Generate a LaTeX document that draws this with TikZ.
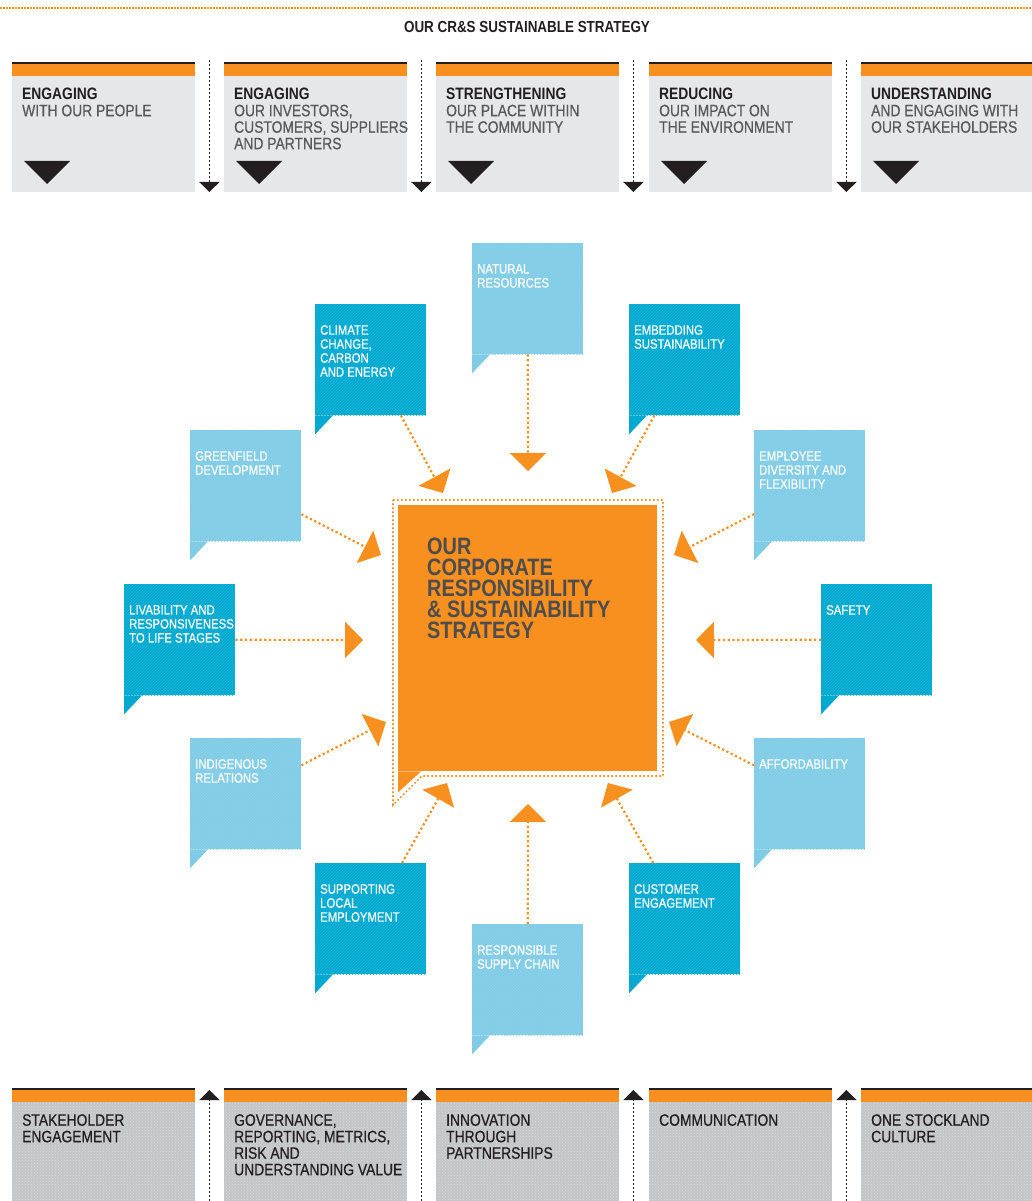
\documentclass[tikz,border=0pt]{standalone}
\usepackage{fontspec}
\setmainfont{Liberation Sans}[FakeStretch=0.84, UprightFeatures={FakeBold=0.5}]
\usetikzlibrary{arrows.meta}
\usetikzlibrary{patterns}
\usetikzlibrary{calc}

\definecolor{crsorange}{HTML}{F7901E}
\definecolor{ink}{HTML}{231F20}
\definecolor{inkgrey}{HTML}{58595B}
\definecolor{coreink}{HTML}{4D4D4F}
\definecolor{boxgrey}{HTML}{E6E7E8}
\definecolor{basegrey}{HTML}{C4C5C7}
\definecolor{dotgrey}{HTML}{D8D9DB}
\definecolor{skydark}{HTML}{00A9D0}
\definecolor{skylight}{HTML}{80CCE6}

\tikzset{
  stripe/.style={path picture={
      \fill[crsorange] (path picture bounding box.north west) rectangle ([yshift=-14pt]path picture bounding box.north east);
      \fill[ink] (path picture bounding box.north west) rectangle ([yshift=-2pt]path picture bounding box.north east);}},
  topbox/.style={anchor=north west, inner sep=0pt, minimum width=183pt, minimum height=130pt, fill=boxgrey, stripe},
  basebox/.style={anchor=north west, inner sep=0pt, minimum width=183pt, minimum height=125pt,
      preaction={fill=basegrey}, pattern=crosshatch dots, pattern color=dotgrey, stripe},
  boxtext/.style={anchor=north west, inner sep=0pt, align=left, font=\fontsize{16.5}{16.5}\selectfont},
  bubblebox/.style={anchor=north west, inner sep=0pt, minimum width=111pt, minimum height=111pt},
  bubbletext/.style={anchor=north west, inner sep=0pt, align=left, text=white, font=\fontsize{13.5}{14}\selectfont},
  core/.style={anchor=north west, inner sep=0pt, minimum width=259pt, minimum height=266pt, fill=crsorange},
  coretext/.style={anchor=north west, inner sep=0pt, align=left, text=coreink, font=\fontsize{23.7}{21}\selectfont\bfseries},
  rim/.style={crsorange, line width=1.6pt, dash pattern=on 1.6pt off 2.4pt},
  spoke/.style={crsorange, line width=2.2pt, dash pattern=on 2.2pt off 2.6pt, -{Triangle[length=18pt,width=36pt]}},
  linkdown/.style={ink, line width=1.6pt, dash pattern=on 1.6pt off 2.4pt, -{Triangle[length=10pt,width=20pt]}},
}

% speech bubble: name, colour, x, y, text
\newcommand\bubble[5]{%
  \node[bubblebox, fill=#2, postaction={pattern=north east lines, pattern color=#2!88!white}] (#1) at (#3,#4) {};
  \fill[#2] (#1.south west) -- ++(0,19) -- ++(18,-19) -- cycle;
  \node[bubbletext] (#1-t) at ([xshift=5pt,yshift=-21pt]#1.north west) {#5};
}

\begin{document}
\begin{tikzpicture}[x=1pt, y=-1pt]
  \useasboundingbox (0,0) rectangle (1032,1201);

  % header
  \draw[crsorange, line width=2pt, dash pattern=on 1.5pt off 1.5pt] (0,8) -- (1032,8);
  \node[inner sep=0pt, text=ink, font=\fontsize{16}{16}\selectfont\bfseries] (title) at (527,26.5) {OUR CR\&S SUSTAINABLE STRATEGY};

  % the five commitments
  \foreach \i/\x in {1/12,2/224,3/436,4/649,5/861}
    \node[topbox] (top\i) at (\x,62) {};
  \node[boxtext, text=inkgrey] (top1-t) at ([shift={(10,26)}]top1.north west) {{\color{ink}\bfseries ENGAGING}\\WITH OUR PEOPLE};
  \node[boxtext, text=inkgrey] (top2-t) at ([shift={(10,26)}]top2.north west) {{\color{ink}\bfseries ENGAGING}\\OUR INVESTORS,\\CUSTOMERS, SUPPLIERS\\AND PARTNERS};
  \node[boxtext, text=inkgrey] (top3-t) at ([shift={(10,26)}]top3.north west) {{\color{ink}\bfseries STRENGTHENING}\\OUR PLACE WITHIN\\THE COMMUNITY};
  \node[boxtext, text=inkgrey] (top4-t) at ([shift={(10,26)}]top4.north west) {{\color{ink}\bfseries REDUCING}\\OUR IMPACT ON\\THE ENVIRONMENT};
  \node[boxtext, text=inkgrey] (top5-t) at ([shift={(10,26)}]top5.north west) {{\color{ink}\bfseries UNDERSTANDING}\\AND ENGAGING WITH\\OUR STAKEHOLDERS};
  \foreach \i in {1,...,5}
    \fill[ink] ($(top\i.north west)+(12,99)$) -- ++(46,0) -- ++(-23,23) -- cycle;
  \foreach \i in {1,...,4}{
    \coordinate (ga\i) at ($(top\i.north east)+(14,-2)$);
    \coordinate (gb\i) at ($(top\i.north east)+(14,130)$);
    \draw[linkdown] (ga\i) -- (gb\i);
  }

  % centre
  \node[core] (core) at (398,505) {};
  \fill[crsorange] (core.south west) -- ++(0,21) -- ++(23,-21) -- cycle;
  \draw[rim] (393,500) -- (663,500) -- (663,776) -- (422,776) -- (393,805) -- cycle;
  \node[coretext] (core-t) at (427,538) {OUR\\CORPORATE\\RESPONSIBILITY\\\& SUSTAINABILITY\\STRATEGY};

  % focus areas
  \bubble{natural}{skylight}{472}{243}{NATURAL\\RESOURCES}
  \bubble{climate}{skydark}{315}{304}{CLIMATE\\CHANGE,\\CARBON\\AND ENERGY}
  \bubble{embedding}{skydark}{629}{304}{EMBEDDING\\SUSTAINABILITY}
  \bubble{greenfield}{skylight}{190}{430}{GREENFIELD\\DEVELOPMENT}
  \bubble{diversity}{skylight}{754}{430}{EMPLOYEE\\DIVERSITY AND\\FLEXIBILITY}
  \bubble{livability}{skydark}{124}{584}{LIVABILITY AND\\RESPONSIVENESS\\TO LIFE STAGES}
  \bubble{safety}{skydark}{821}{584}{SAFETY}
  \bubble{indigenous}{skylight}{190}{738}{INDIGENOUS\\RELATIONS}
  \bubble{affordability}{skylight}{754}{738}{AFFORDABILITY}
  \bubble{employment}{skydark}{315}{863}{SUPPORTING\\LOCAL\\EMPLOYMENT}
  \bubble{supply}{skylight}{472}{924}{RESPONSIBLE\\SUPPLY CHAIN}
  \bubble{customer}{skydark}{629}{863}{CUSTOMER\\ENGAGEMENT}

  \coordinate (naturalTip) at (528,471);
  \coordinate (climateTip) at (443,493);
  \coordinate (embeddingTip) at (612,493);
  \coordinate (greenfieldTip) at (381,555);
  \coordinate (diversityTip) at (674,555);
  \coordinate (livabilityTip) at (363,640);
  \coordinate (safetyTip) at (696,640);
  \coordinate (indigenousTip) at (386,722);
  \coordinate (affordabilityTip) at (669,722);
  \coordinate (employmentTip) at (447,783);
  \coordinate (supplyTip) at (528,804);
  \coordinate (customerTip) at (608,783);
  \foreach \n in {natural,climate,embedding,greenfield,diversity,livability,safety,
                  indigenous,affordability,employment,supply,customer}
    \draw[spoke] (\n) -- (\n Tip);

  % the five enablers
  \foreach \i/\x in {1/12,2/224,3/436,4/649,5/861}
    \node[basebox] (base\i) at (\x,1088) {};
  \node[boxtext, text=ink] (base1-t) at ([shift={(10,26)}]base1.north west) {STAKEHOLDER\\ENGAGEMENT};
  \node[boxtext, text=ink] (base2-t) at ([shift={(10,26)}]base2.north west) {GOVERNANCE,\\REPORTING, METRICS,\\RISK AND\\UNDERSTANDING VALUE};
  \node[boxtext, text=ink] (base3-t) at ([shift={(10,26)}]base3.north west) {INNOVATION\\THROUGH\\PARTNERSHIPS};
  \node[boxtext, text=ink] (base4-t) at ([shift={(10,26)}]base4.north west) {COMMUNICATION};
  \node[boxtext, text=ink] (base5-t) at ([shift={(10,26)}]base5.north west) {ONE STOCKLAND\\CULTURE};
  \foreach \i in {1,...,4}{
    \coordinate (ba\i) at ($(base\i.north east)+(14,113)$);
    \coordinate (bb\i) at ($(base\i.north east)+(14,2)$);
    \draw[linkdown] (ba\i) -- (bb\i);
  }
\end{tikzpicture}
\end{document}
